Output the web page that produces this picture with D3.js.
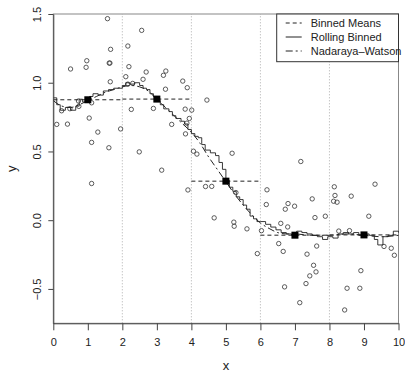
<!DOCTYPE html>
<html>
<head>
<meta charset="utf-8">
<script src="https://cdn.jsdelivr.net/npm/d3@7"></script>
<style>
  body { margin: 0; background: #fff; }
  svg { display: block; font-family: "Liberation Sans", Arial, sans-serif; }
  .axis path, .axis line { stroke: #444; }
  .axis text { fill: #222; font-size: 11px; }
</style>
</head>
<body>
<div id="chart"></div>
<script>
// observed points
const pointX = [1.57, 2.16, 1.66, 0.97, 0.95, 0.50, 1.62, 1.64, 2.19, 2.10, 1.65, 2.30, 0.24, 0.48, 0.74,
  1.11, 2.26, 1.04, 0.10, 0.41, 1.95, 1.29, 1.11, 1.61, 2.49, 1.11, 2.56, 2.69, 2.60, 3.26, 3.19, 3.75,
  3.88, 3.25, 4.45, 2.90, 3.82, 4.01, 3.94, 3.43, 3.87, 3.83, 4.06, 4.16, 5.18, 3.14, 3.90, 4.41, 4.59,
  5.29, 6.19, 6.17, 4.66, 5.23, 5.24, 5.61, 6.03, 7.17, 8.14, 8.16, 8.12, 8.22, 8.63, 9.32, 7.50, 6.80,
  6.99, 6.72, 7.58, 7.88, 9.14, 6.59, 6.79, 8.27, 8.58, 6.53, 7.63, 9.58, 9.79, 6.66, 7.35, 7.54, 7.61,
  7.43, 7.32, 6.70, 7.14, 8.91, 8.51, 8.88, 8.44, 9.88, 5.91, 2.16, 0.73];
const pointY = [1.466, 1.267, 1.243, 1.160, 1.112, 1.100, 1.143, 1.143, 1.117, 1.044, 1.007, 0.995, 0.796,
  0.811, 0.828, 0.854, 0.806, 0.743, 0.697, 0.699, 0.664, 0.641, 0.566, 0.527, 0.497, 0.267, 1.381,
  1.078, 1.025, 1.085, 1.054, 1.012, 0.964, 0.953, 0.874, 0.813, 0.808, 0.801, 0.740, 0.697, 0.706,
  0.628, 0.502, 0.481, 0.487, 0.364, 0.220, 0.245, 0.246, 0.201, 0.221, 0.114, 0.017, -0.014, -0.044,
  -0.063, -0.076, 0.427, 0.243, 0.180, 0.138, 0.131, 0.175, 0.262, 0.155, 0.121, 0.102, 0.080, 0.019,
  0.029, 0.029, -0.023, -0.049, -0.079, -0.076, -0.170, -0.188, -0.191, -0.204, -0.227, -0.247,
  -0.328, -0.376, -0.405, -0.461, -0.485, -0.600, -0.367, -0.495, -0.495, -0.653, -0.255, -0.243,
  0.990, 0.867];

// binned means
const binEdges = [0, 2, 4, 6, 8, 10];
const binCenters = [1, 3, 5, 7, 9];
const binMeans = [0.876, 0.881, 0.284, -0.109, -0.107];

// rolling binned (step)
const rollX = [0.00, 0.10, 0.20, 0.35, 0.50, 0.65, 0.75, 0.85, 0.95, 1.05, 1.15, 1.30, 1.45, 1.60, 1.75,
  1.90, 2.00, 2.10, 2.20, 2.35, 2.50, 2.60, 2.70, 2.80, 2.90, 3.00, 3.10, 3.20, 3.35, 3.45, 3.55, 3.70,
  3.80, 3.90, 4.00, 4.10, 4.20, 4.30, 4.40, 4.55, 4.70, 4.80, 4.90, 5.00, 5.10, 5.20, 5.30, 5.40, 5.50,
  5.60, 5.70, 5.80, 5.90, 6.00, 6.15, 6.30, 6.45, 6.60, 6.75, 6.90, 7.05, 7.20, 7.35, 7.50, 7.65, 7.80,
  7.95, 8.10, 8.25, 8.40, 8.55, 8.70, 8.85, 9.00, 9.15, 9.30, 9.40, 9.55, 9.70, 9.85, 10.0];
const rollY = [0.89, 0.84, 0.80, 0.82, 0.80, 0.83, 0.88, 0.86, 0.89, 0.90, 0.92, 0.91, 0.94, 0.95, 0.96,
  0.96, 0.98, 1.00, 0.99, 1.00, 0.98, 0.96, 0.95, 0.92, 0.90, 0.87, 0.84, 0.81, 0.79, 0.76, 0.74, 0.72,
  0.70, 0.66, 0.63, 0.61, 0.60, 0.55, 0.51, 0.49, 0.47, 0.42, 0.37, 0.29, 0.24, 0.21, 0.17, 0.15, 0.11,
  0.08, 0.03, 0.01, -0.01, -0.01, -0.03, -0.05, -0.07, -0.09, -0.10, -0.11, -0.08, -0.09, -0.10, -0.11,
  -0.12, -0.14, -0.12, -0.13, -0.10, -0.09, -0.10, -0.09, -0.11, -0.10, -0.11, -0.14, -0.18, -0.12,
  -0.11, -0.08, -0.09];

// Nadaraya-Watson
const nwX = [0.0, 0.25, 0.5, 0.75, 1.0, 1.25, 1.5, 1.75, 2.0, 2.25, 2.5, 2.75, 3.0, 3.25, 3.5, 3.75, 4.0,
  4.25, 4.5, 4.75, 5.0, 5.25, 5.5, 5.75, 6.0, 6.25, 6.5, 6.75, 7.0, 7.5, 8.0, 8.5, 9.0, 9.5, 10.0];
const nwY = [0.87, 0.83, 0.82, 0.84, 0.87, 0.90, 0.93, 0.95, 0.97, 0.98, 0.97, 0.94, 0.88, 0.82, 0.76,
  0.70, 0.64, 0.56, 0.46, 0.37, 0.28, 0.19, 0.11, 0.04, -0.02, -0.06, -0.09, -0.10, -0.10, -0.11, -0.11,
  -0.10, -0.11, -0.12, -0.11];

const xTicks = [0, 1, 2, 3, 4, 5, 6, 7, 8, 9, 10];
const yTicks = [-0.5, 0.0, 0.5, 1.0, 1.5];
const gridX = [2, 4, 6, 8];
const legendLabels = ['Binned Means', 'Rolling Binned', 'Nadaraya\u2013Watson'];
const legendDash = ['4,3', null, '7,3,2,3'];

const W = 405, H = 372;
const margin = {top: 14, right: 6.5, bottom: 48.7, left: 53.3};

const svg = d3.select('#chart').append('svg')
    .attr('width', W)
    .attr('height', H);

const x = d3.scaleLinear().domain([0, 10]).range([margin.left, W - margin.right]);
const y = d3.scaleLinear().domain([-0.75, 1.5]).range([H - margin.bottom, margin.top]);

// dotted bin boundaries
svg.selectAll('.vgrid')
    .data(gridX)
  .enter().append('line')
    .attr('x1', d => x(d)).attr('x2', d => x(d))
    .attr('y1', y.range()[0]).attr('y2', y.range()[1])
    .attr('stroke', '#999')
    .attr('stroke-width', 0.8)
    .attr('stroke-dasharray', '1,2');

// plot box (light)
svg.append('rect')
    .attr('x', x(0)).attr('y', y(1.5))
    .attr('width', x(10) - x(0)).attr('height', y(-0.75) - y(1.5))
    .attr('fill', 'none')
    .attr('stroke', '#888');

// points
svg.selectAll('.pt')
    .data(pointX.map((d, i) => [d, pointY[i]]))
  .enter().append('circle')
    .attr('cx', d => x(d[0]))
    .attr('cy', d => y(d[1]))
    .attr('r', 2.2)
    .attr('fill', 'none')
    .attr('stroke', '#333')
    .attr('stroke-width', 0.8);

// binned means
svg.selectAll('.bin')
    .data(binMeans)
  .enter().append('line')
    .attr('x1', (d, i) => x(binEdges[i]))
    .attr('x2', (d, i) => x(binEdges[i + 1]))
    .attr('y1', d => y(d)).attr('y2', d => y(d))
    .attr('stroke', '#222')
    .attr('stroke-dasharray', legendDash[0]);

// rolling binned
const step = d3.line()
    .x(d => x(d[0]))
    .y(d => y(d[1]))
    .curve(d3.curveStepAfter);
svg.append('path')
    .datum(rollX.map((d, i) => [d, rollY[i]]))
    .attr('d', step)
    .attr('fill', 'none')
    .attr('stroke', '#222')
    .attr('stroke-width', 0.9);

// nadaraya-watson
const smooth = d3.line()
    .x(d => x(d[0]))
    .y(d => y(d[1]))
    .curve(d3.curveMonotoneX);
svg.append('path')
    .datum(nwX.map((d, i) => [d, nwY[i]]))
    .attr('d', smooth)
    .attr('fill', 'none')
    .attr('stroke', '#222')
    .attr('stroke-dasharray', legendDash[2]);

// bin centre squares
svg.selectAll('.sq')
    .data(binMeans)
  .enter().append('rect')
    .attr('x', (d, i) => x(binCenters[i]) - 3.5)
    .attr('y', d => y(d) - 3.5)
    .attr('width', 7).attr('height', 7)
    .attr('fill', '#000');

// axes
const xAxis = svg.append('g')
    .attr('class', 'axis')
    .attr('transform', 'translate(0,' + y(-0.75) + ')')
    .call(d3.axisBottom(x).tickValues(xTicks).tickFormat(d3.format('d')).tickSize(7).tickSizeOuter(0));
xAxis.selectAll('text').attr('y', 15).attr('dy', '0.71em');

const yAxis = svg.append('g')
    .attr('class', 'axis')
    .attr('transform', 'translate(' + x(0) + ',0)')
    .call(d3.axisLeft(y).tickValues(yTicks).tickFormat(d3.format('.1f')).tickSize(5).tickSizeOuter(0));
yAxis.selectAll('text')
    .attr('transform', 'rotate(-90)')
    .attr('x', 0).attr('y', -12.5).attr('dy', 0)
    .style('text-anchor', 'middle')
    .text(d => d3.format('.1f')(d).replace('-', '\u2212'));

// axis titles
svg.append('text')
    .attr('x', (x(0) + x(10)) / 2).attr('y', 370)
    .attr('text-anchor', 'middle')
    .attr('font-size', 13).attr('fill', '#222')
    .text('x');
svg.append('text')
    .attr('transform', 'translate(16,' + ((y(1.5) + y(-0.75)) / 2) + ') rotate(-90)')
    .attr('text-anchor', 'middle')
    .attr('font-size', 13).attr('fill', '#222')
    .text('y');

// legend
const lg = svg.append('g').attr('transform', 'translate(276.7,' + margin.top + ')');
lg.append('rect')
    .attr('width', x(10) - 276.7).attr('height', 47.7)
    .attr('fill', '#fff')
    .attr('stroke', '#333');
legendLabels.forEach((t, i) => {
  const ly = 9 + i * 14;
  lg.append('line')
      .attr('x1', 9).attr('x2', 25)
      .attr('y1', ly).attr('y2', ly)
      .attr('stroke', '#222')
      .attr('stroke-dasharray', legendDash[i]);
  lg.append('text')
      .attr('x', 34).attr('y', ly + 4)
      .attr('font-size', 11).attr('fill', '#222')
      .text(t);
});
</script>
</body>
</html>
